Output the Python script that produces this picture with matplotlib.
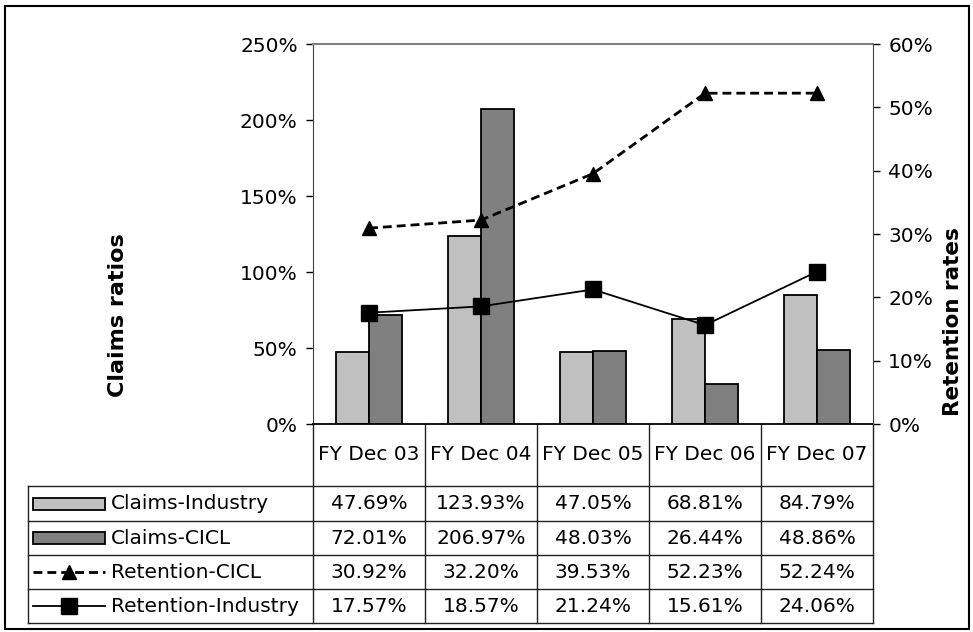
import matplotlib.pyplot as plt
from matplotlib.patches import Rectangle
from matplotlib.ticker import FuncFormatter

years = ['FY Dec 03', 'FY Dec 04', 'FY Dec 05', 'FY Dec 06', 'FY Dec 07']
claims_industry = [47.69, 123.93, 47.05, 68.81, 84.79]
claims_cicl = [72.01, 206.97, 48.03, 26.44, 48.86]
retention_cicl = [30.92, 32.20, 39.53, 52.23, 52.24]
retention_industry = [17.57, 18.57, 21.24, 15.61, 24.06]

W, H = 973, 632
fs = 14.5
dash = (0, (3.2, 1.8))
fig = plt.figure(figsize=(W / 100, H / 100), dpi=100)

# background axes in pixel coordinates for the frame and the data table
bg = fig.add_axes([0, 0, 1, 1], zorder=0)
bg.set_xlim(0, W)
bg.set_ylim(H, 0)
bg.axis('off')

# plot area (pixels)
px0, px1, py0, py1 = 313, 873, 44, 424
ax = fig.add_axes([px0 / W, 1 - py1 / H, (px1 - px0) / W, (py1 - py0) / H], zorder=2)
ax.patch.set_alpha(0)

n = len(years)
xs = list(range(n))
bw = 0.295
ax.bar([x - bw / 2 for x in xs], claims_industry, bw, color='#C0C0C0', edgecolor='black', linewidth=1.3, zorder=2)
ax.bar([x + bw / 2 for x in xs], claims_cicl, bw, color='#808080', edgecolor='black', linewidth=1.3, zorder=2)
ax.set_xlim(-0.5, n - 0.5)
ax.set_ylim(0, 250)
ax.set_yticks(range(0, 251, 50))
ax.yaxis.set_major_formatter(FuncFormatter(lambda v, p: '%d%%' % v))
ax.set_xticks([])
ax.tick_params(axis='y', direction='out', length=5, width=1, labelsize=fs, pad=6)
ax.spines['top'].set_color('#808080')
ax.spines['top'].set_linewidth(1.5)
ax.spines['left'].set_color('#404040')
ax.spines['right'].set_visible(False)
ax.spines['bottom'].set_linewidth(1.3)

ax2 = ax.twinx()
ax2.plot(xs, retention_cicl, ls=dash, color='black', lw=2, marker='^', ms=10, zorder=3)
ax2.plot(xs, retention_industry, ls='-', color='black', lw=1.3, marker='s', ms=11.5, zorder=3)
ax2.set_ylim(0, 60)
ax2.set_yticks(range(0, 61, 10))
ax2.yaxis.set_major_formatter(FuncFormatter(lambda v, p: '%d%%' % v))
ax2.tick_params(axis='y', direction='out', length=5, width=1, labelsize=fs, pad=6)
for s in ['top', 'left', 'bottom']:
    ax2.spines[s].set_visible(False)
ax2.spines['right'].set_color('#404040')

fig.text(118 / W, 1 - 315 / H, 'Claims ratios', rotation=90, ha='center', va='center',
         fontsize=16, fontweight='bold')
fig.text(953 / W, 1 - 322 / H, 'Retention rates', rotation=90, ha='center', va='center',
         fontsize=15.5, fontweight='bold')

# outer frame
bg.add_patch(Rectangle((5, 6), 964, 623, fill=False, edgecolor='black', lw=1.5))

# data table
colw = (px1 - px0) / n
lx0 = 28
rows_y = [486, 521, 555, 589, 623]
lc = '#202020'
for y in rows_y:
    bg.plot([lx0, px1], [y, y], color=lc, lw=1)
for i in range(n + 1):
    x = px0 + i * colw
    bg.plot([x, x], [py1, rows_y[-1]], color=lc, lw=1)
bg.plot([lx0, lx0], [rows_y[0], rows_y[-1]], color=lc, lw=1)
for i, yr in enumerate(years):
    bg.text(px0 + (i + 0.5) * colw, 455, yr, ha='center', va='center', fontsize=fs)

names = ['Claims-Industry', 'Claims-CICL', 'Retention-CICL', 'Retention-Industry']
table_vals = [claims_industry, claims_cicl, retention_cicl, retention_industry]
kx0, kx1 = 33, 105
for r, (name, vals) in enumerate(zip(names, table_vals)):
    yc = (rows_y[r] + rows_y[r + 1]) / 2
    if r == 0:
        bg.add_patch(Rectangle((kx0, yc - 6), kx1 - kx0, 12, facecolor='#C0C0C0', edgecolor='black', lw=1.3))
    elif r == 1:
        bg.add_patch(Rectangle((kx0, yc - 6), kx1 - kx0, 12, facecolor='#808080', edgecolor='black', lw=1.3))
    elif r == 2:
        bg.plot([kx0, kx1], [yc, yc], ls=dash, color='black', lw=2)
        bg.plot([(kx0 + kx1) / 2], [yc], marker='^', ms=10, color='black')
    else:
        bg.plot([kx0, kx1], [yc, yc], ls='-', color='black', lw=1.3)
        bg.plot([(kx0 + kx1) / 2], [yc], marker='s', ms=11.5, color='black')
    bg.text(111, yc, name, ha='left', va='center', fontsize=fs)
    for i, v in enumerate(vals):
        bg.text(px0 + (i + 0.5) * colw, yc, '%.2f%%' % v, ha='center', va='center', fontsize=fs)

fig.savefig('out.png', dpi=100)
